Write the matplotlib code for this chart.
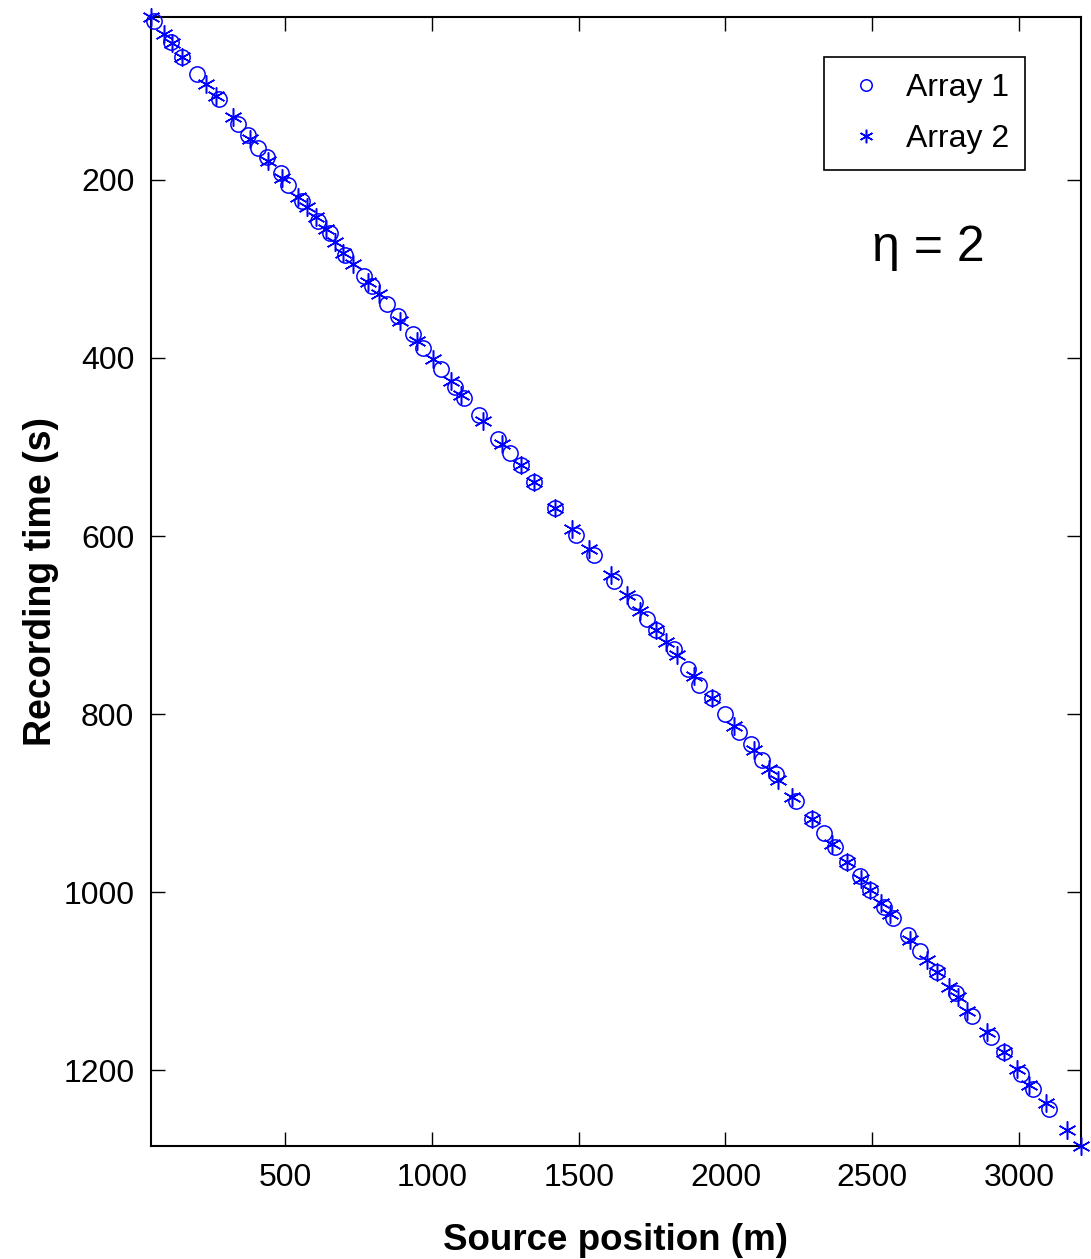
import matplotlib
matplotlib.use("Agg")
import matplotlib.pyplot as plt

plt.rcParams['font.family'] = ['Liberation Sans', 'DejaVu Sans']

# Array 1 (circles): source position (m) and recording time (s)
pos1 = [54, 112, 149, 200, 275, 340, 374, 408, 439, 486, 510, 558, 612, 653, 704,
        769, 796, 847, 885, 936, 970, 1031, 1079, 1110, 1161, 1225, 1266, 1304, 1348,
        1420, 1491, 1552, 1621, 1692, 1733, 1764, 1825, 1873, 1910, 1954, 1999, 2046,
        2087, 2125, 2172, 2240, 2295, 2336, 2373, 2414, 2458, 2492, 2540, 2571, 2622,
        2663, 2721, 2785, 2840, 2905, 2949, 3007, 3048, 3102]
time1 = [22, 45, 62, 81, 109, 137, 149, 164, 174, 192, 206, 224, 246, 260, 284,
         308, 319, 339, 353, 373, 389, 412, 433, 445, 464, 491, 507, 520, 539,
         569, 599, 621, 651, 674, 693, 706, 727, 749, 767, 782, 800, 820,
         834, 851, 867, 898, 918, 934, 949, 966, 982, 997, 1017, 1029, 1048,
         1066, 1090, 1113, 1139, 1163, 1180, 1204, 1221, 1243]

# Array 2 (asterisks)
pos2 = [43, 88, 115, 149, 231, 265, 323, 381, 442, 490, 544, 575, 605, 640, 670,
        697, 732, 783, 820, 892, 950, 1004, 1065, 1099, 1174, 1239, 1304, 1348, 1420,
        1477, 1535, 1610, 1665, 1709, 1764, 1798, 1835, 1893, 1954, 2029, 2097, 2148,
        2179, 2227, 2295, 2363, 2414, 2462, 2492, 2530, 2561, 2629, 2687, 2721, 2762,
        2792, 2823, 2891, 2949, 2993, 3034, 3092, 3163, 3211]
time2 = [17, 36, 46, 62, 92, 106, 129, 154, 179, 198, 219, 230, 242, 255, 270,
         282, 294, 315, 328, 358, 381, 401, 426, 442, 471, 497, 520, 539, 569,
         592, 615, 644, 666, 684, 706, 719, 734, 757, 782, 813, 840, 862,
         874, 893, 918, 946, 966, 985, 997, 1012, 1025, 1054, 1076, 1090, 1106,
         1118, 1133, 1157, 1180, 1199, 1216, 1237, 1267, 1285]

xticks = [500, 1000, 1500, 2000, 2500, 3000]
yticks = [200, 400, 600, 800, 1000, 1200]

fig = plt.figure(figsize=(10.91, 12.59), dpi=100)
ax = fig.add_axes([0.1384, 0.0898, 0.8524, 0.8967])

ax.plot(pos1, time1, linestyle='none', marker='o', markersize=11,
        markerfacecolor='none', markeredgecolor='b', markeredgewidth=1.1,
        label='Array 1', clip_on=False, zorder=3)
ax.plot(pos2, time2, linestyle='none', marker=(6, 2, 0), markersize=13,
        markeredgecolor='b', markeredgewidth=1.1, color='b', label='Array 2',
        clip_on=False, zorder=3)

ax.set_xlim(min(pos1 + pos2), max(pos1 + pos2))
ax.set_ylim(max(time1 + time2), min(time1 + time2))
ax.set_xticks(xticks)
ax.set_yticks(yticks)
ax.tick_params(direction='in', length=10, width=1, labelsize=23,
               top=True, right=True, pad=12)
for s in ax.spines.values():
    s.set_linewidth(1.5)

ax.set_xlabel('Source position (m)', fontsize=26.5, fontweight='bold', labelpad=22)
ax.set_ylabel('Recording time (s)', fontsize=27, fontweight='bold', labelpad=3)

leg = ax.legend(loc='upper right', bbox_to_anchor=(0.9398, 0.9646), fontsize=23,
                frameon=True, fancybox=False, edgecolor='black', framealpha=1,
                borderaxespad=0, handlelength=1.6, handletextpad=0.45,
                labelspacing=0.65, borderpad=0.5, markerscale=0.75)
leg.get_frame().set_linewidth(1.2)
leg.set_zorder(5)

ax.text(0.8355, 0.7954, 'η = 2', transform=ax.transAxes, fontsize=36,
        ha='center', va='center')

fig.savefig('out.png', dpi=100)
